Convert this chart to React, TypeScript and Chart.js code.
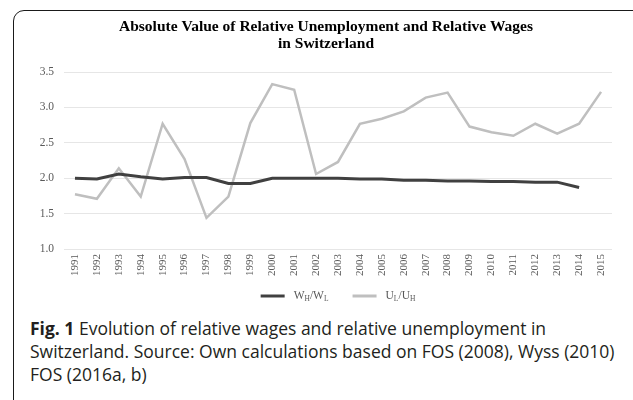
import { useEffect, useRef } from 'react';
import { Chart, registerables } from 'chart.js';

Chart.register(...registerables);

const years = [
  '1991', '1992', '1993', '1994', '1995', '1996', '1997', '1998', '1999', '2000',
  '2001', '2002', '2003', '2004', '2005', '2006', '2007', '2008', '2009', '2010',
  '2011', '2012', '2013', '2014', '2015',
];

const wageRatio: (number | null)[] = [
  2.0, 1.99, 2.06, 2.02, 1.99, 2.01, 2.01, 1.925, 1.925, 2.0,
  2.0, 2.0, 2.0, 1.99, 1.99, 1.97, 1.97, 1.96, 1.96, 1.955,
  1.955, 1.945, 1.945, 1.87, null,
];

const unempRatio: number[] = [
  1.775, 1.71, 2.14, 1.74, 2.77, 2.27, 1.44, 1.74, 2.78, 3.33,
  3.25, 2.06, 2.23, 2.77, 2.84, 2.945, 3.14, 3.21, 2.73, 2.65,
  2.6, 2.77, 2.63, 2.77, 3.22,
];

const titleLines = [
  'Absolute Value of Relative Unemployment and Relative Wages',
  'in Switzerland',
];

const legendItems = [
  { color: '#404040', parts: [{ t: 'W' }, { t: 'H', sub: true }, { t: '/W' }, { t: 'L', sub: true }] },
  { color: '#BFBFBF', parts: [{ t: 'U' }, { t: 'L', sub: true }, { t: '/U' }, { t: 'H', sub: true }] },
];

const serif = '"Liberation Serif", "DejaVu Serif", serif';

const legendPlugin = {
  id: 'subLegend',
  afterDraw(chart: any) {
    const ctx = chart.ctx as CanvasRenderingContext2D;
    const mainFont = `11.5px ${serif}`;
    const subFont = `7.5px ${serif}`;
    const sample = 24;
    const gapText = 9;
    const gapItems = 24;
    const widths = legendItems.map((it) => {
      let w = 0;
      for (const p of it.parts) {
        ctx.font = p.sub ? subFont : mainFont;
        w += ctx.measureText(p.t).width;
      }
      return w;
    });
    const total = widths.reduce((a, b) => a + b, 0) + legendItems.length * (sample + gapText) + gapItems * (legendItems.length - 1);
    const cx = (chart.chartArea.left + chart.chartArea.right) / 2;
    let x = cx - total / 2;
    const y = chart.height - 16;
    ctx.save();
    ctx.textBaseline = 'middle';
    ctx.textAlign = 'left';
    legendItems.forEach((it, i) => {
      ctx.strokeStyle = it.color;
      ctx.lineWidth = 3;
      ctx.beginPath();
      ctx.moveTo(x, y);
      ctx.lineTo(x + sample, y);
      ctx.stroke();
      x += sample + gapText;
      ctx.fillStyle = '#595959';
      for (const p of it.parts) {
        ctx.font = p.sub ? subFont : mainFont;
        ctx.fillText(p.t, x, p.sub ? y + 3 : y);
        x += ctx.measureText(p.t).width;
      }
      if (i < legendItems.length - 1) x += gapItems;
    });
    ctx.restore();
  },
};

export default function App() {
  const ref = useRef<HTMLCanvasElement | null>(null);

  useEffect(() => {
    if (!ref.current) return;
    const chart = new Chart(ref.current, {
      type: 'line',
      data: {
        labels: years,
        datasets: [
          {
            label: 'WH/WL',
            data: wageRatio,
            borderColor: '#404040',
            borderWidth: 3,
            pointRadius: 0,
            tension: 0,
          },
          {
            label: 'UL/UH',
            data: unempRatio,
            borderColor: '#BFBFBF',
            borderWidth: 2.5,
            pointRadius: 0,
            tension: 0,
          },
        ],
      },
      options: {
        responsive: false,
        animation: false,
        layout: { padding: { left: 20, right: 20, top: 0, bottom: 35 } },
        plugins: {
          legend: { display: false },
          tooltip: { enabled: false },
          title: {
            display: true,
            text: titleLines,
            color: '#000',
            font: { family: serif, size: 15.5, weight: 'bold', lineHeight: 1.1 },
            padding: { top: 6, bottom: 20 },
          },
        },
        scales: {
          x: {
            offset: true,
            grid: { display: false, drawTicks: false },
            border: { display: false },
            ticks: {
              color: '#595959',
              font: { family: serif, size: 11 },
              maxRotation: 90,
              minRotation: 90,
              autoSkip: false,
              padding: 5,
            },
            afterFit: (scale: any) => {
              scale.height = 28;
            },
          },
          y: {
            min: 1,
            max: 3.5,
            grid: { color: '#E6E6E6', lineWidth: 1, drawTicks: false },
            border: { display: false },
            ticks: {
              stepSize: 0.5,
              color: '#595959',
              font: { family: serif, size: 11.5 },
              padding: 10,
              callback: (v: any) => Number(v).toFixed(1),
            },
            afterFit: (scale: any) => {
              scale.width = 24;
            },
          },
        },
      },
      plugins: [legendPlugin],
    });
    return () => chart.destroy();
  }, []);

  return (
    <div style={{ position: 'fixed', left: 0, top: 0, width: 633, height: 400, overflow: 'hidden', background: '#fff' }}>
      <div
        style={{
          position: 'absolute',
          left: 13,
          top: 10,
          width: 640,
          height: 420,
          border: '1.5px solid #1a1a1a',
          borderRadius: 11,
          boxSizing: 'border-box',
        }}
      />
      <canvas ref={ref} width={612} height={300} style={{ position: 'absolute', left: 20, top: 12, width: 612, height: 300 }} />
      <div
        style={{
          position: 'absolute',
          left: 30,
          top: 317,
          font: '17.5px "Open Sans", sans-serif',
          lineHeight: '22.8px',
          color: '#231f20',
          whiteSpace: 'nowrap',
        }}
      >
        <b>Fig. 1</b> Evolution of relative wages and relative unemployment in
        <br />
        Switzerland. Source: Own calculations based on FOS (2008), Wyss (2010)
        <br />
        FOS (2016a, b)
      </div>
    </div>
  );
}
